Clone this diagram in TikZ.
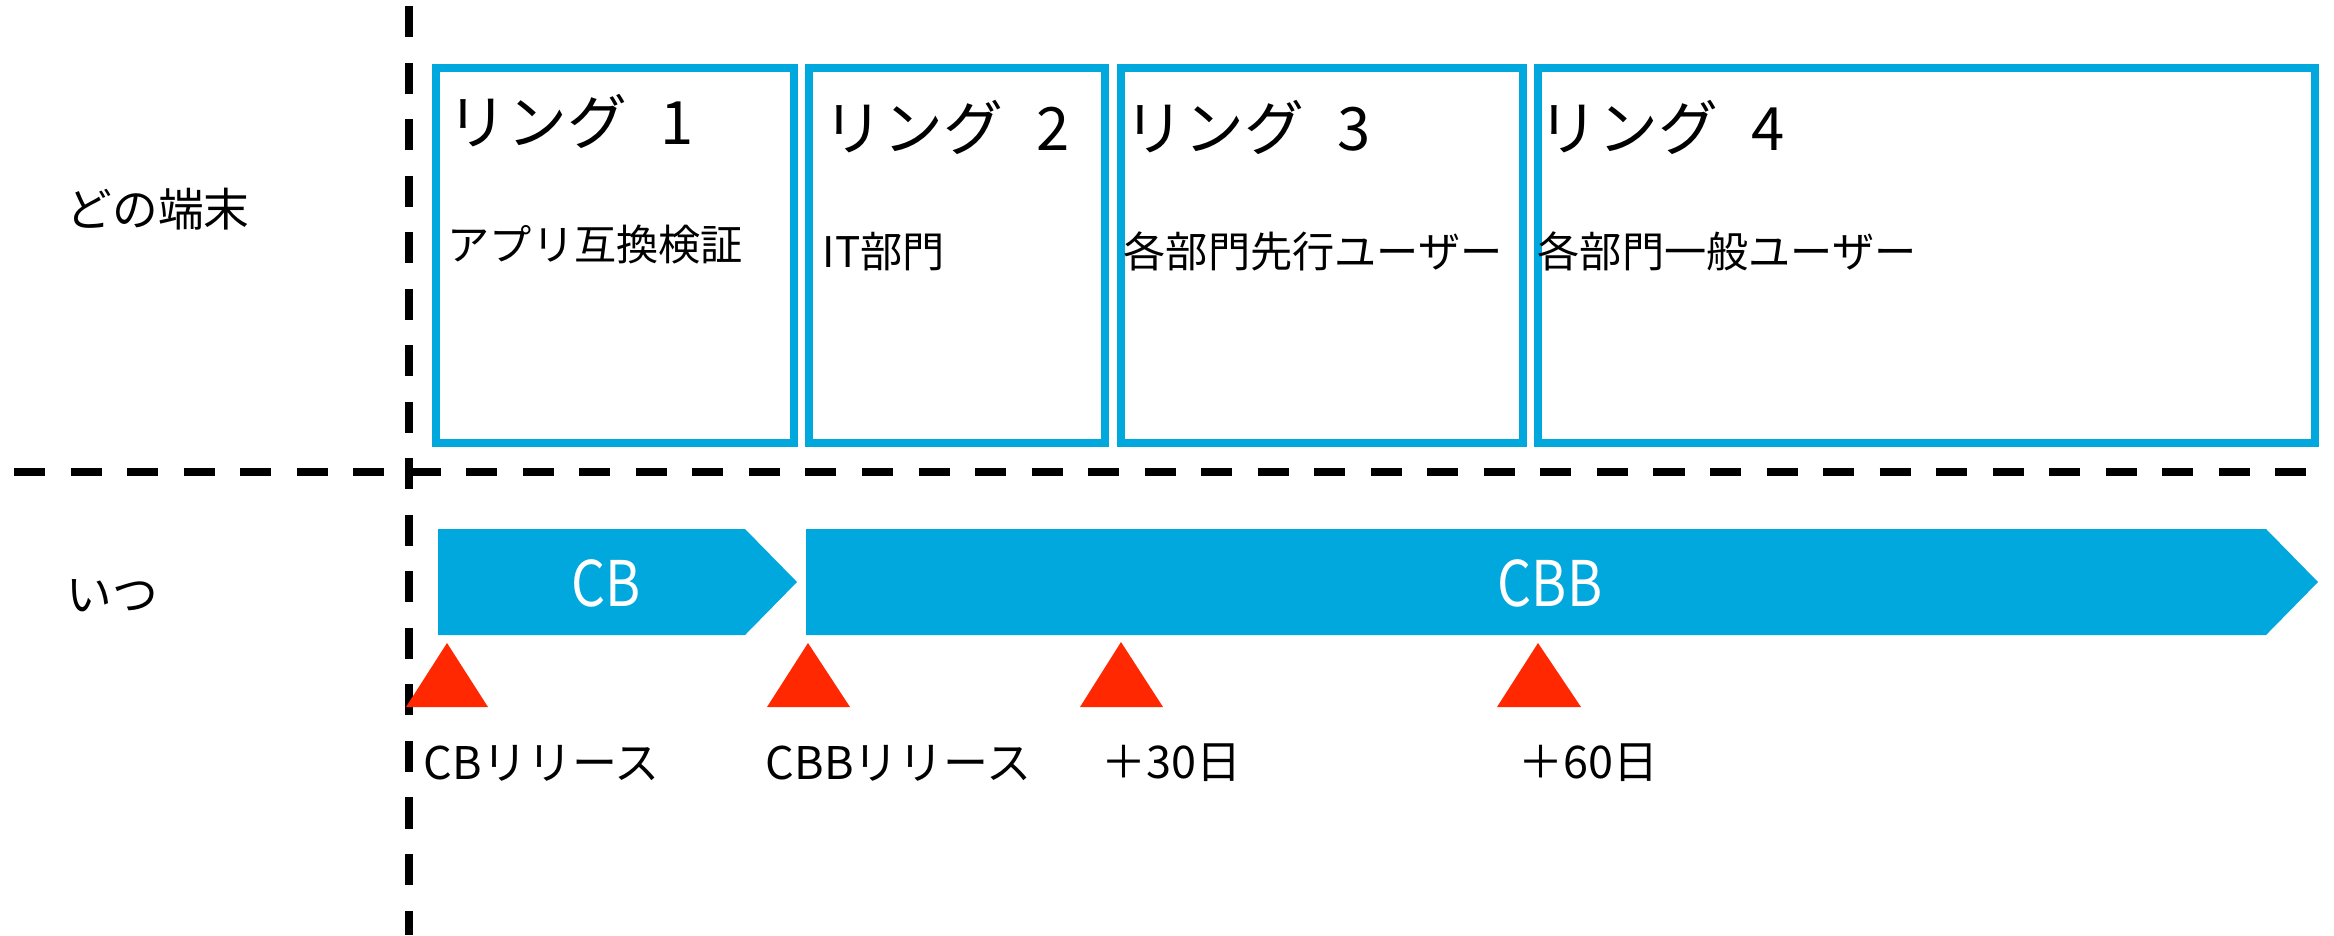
\documentclass[tikz,border=0pt]{standalone}
\usepackage{fontspec}
\setmainfont{Noto Sans CJK JP}
\definecolor{hpblue}{HTML}{00A8DE}
\definecolor{mkred}{HTML}{FF2800}
\tikzset{
  divider/.style={line width=0.085cm, dash pattern=on 0.31cm off 0.255cm, black},
  ringbox/.style={draw=hpblue, line width=0.08cm},
  phase/.style={fill=hpblue, draw=none},
  marker/.style={fill=mkred, draw=none},
  ringtitle/.style={anchor=base west, inner sep=0pt, font=\fontsize{17pt}{20pt}\selectfont},
  ringsub/.style={anchor=base west, inner sep=0pt, font=\fontsize{12pt}{14pt}\selectfont},
  axislabel/.style={anchor=base west, inner sep=0pt, font=\fontsize{13pt}{16pt}\selectfont},
  phaselabel/.style={anchor=base, inner sep=0pt, text=white, font=\fontsize{17.9pt}{20pt}\selectfont},
  eventlabel/.style={anchor=base west, inner sep=0pt, font=\fontsize{12.8pt}{15pt}\selectfont},
}
\newcommand{\ringgap}{\hspace{0.56em}}
\begin{document}
\begin{tikzpicture}[x=0.01cm, y=-0.01cm]
\useasboundingbox (0,0) rectangle (2334,935);
% dividers
\draw[divider] (409,6) -- (409,935);
\draw[divider] (14,472) -- (2322,472);
% ring boxes
\draw[ringbox] (436,68) rectangle (794,443);
\draw[ringbox] (809,68) rectangle (1105,443);
\draw[ringbox] (1121,68) rectangle (1523,443);
\draw[ringbox] (1538,68) rectangle (2315,443);
% ring texts
\node[ringtitle] (t1) at (447,144) {リング\ringgap 1};
\node[ringtitle] (t2) at (823,150) {リング\ringgap 2};
\node[ringtitle] (t3) at (1124,150) {リング\ringgap 3};
\node[ringtitle] (t4) at (1538,150) {リング\ringgap 4};
\node[ringsub] (s1) at (447,260) {アプリ互換検証};
\node[ringsub] (s2) at (822,267) {IT部門};
\node[ringsub] (s3) at (1123,267) {各部門先行ユーザー};
\node[ringsub] (s4) at (1537,267) {各部門一般ユーザー};
% axis labels
\node[axislabel] (q1) at (66,226) {どの端末};
\node[axislabel] (q2) at (66,611) {いつ};
% phase arrows
\path[phase] (438,529) -- (745,529) -- (797,582) -- (745,635) -- (438,635) -- cycle;
\path[phase] (806,529) -- (2266,529) -- (2318,582) -- (2266,635) -- (806,635) -- cycle;
\node[phaselabel] (cb) at (606,606) {\scalebox{0.85}[1]{CB}};
\node[phaselabel] (cbb) at (1550,606) {\scalebox{0.85}[1]{CBB}};
% markers
\path[marker] (406,707) -- (447,643) -- (488,707) -- cycle;
\path[marker] (767,707) -- (808,643) -- (850,707) -- cycle;
\path[marker] (1080,707) -- (1121,642) -- (1163,707) -- cycle;
\path[marker] (1497,707) -- (1538,643) -- (1581,707) -- cycle;
% event labels
\node[eventlabel] (l1) at (423,779) {CBリリース};
\node[eventlabel] (l2) at (765,779) {CBBリリース};
\node[eventlabel] (l3) at (1101,778) {＋30日};
\node[eventlabel] (l4) at (1518,778) {＋60日};
\end{tikzpicture}
\end{document}
